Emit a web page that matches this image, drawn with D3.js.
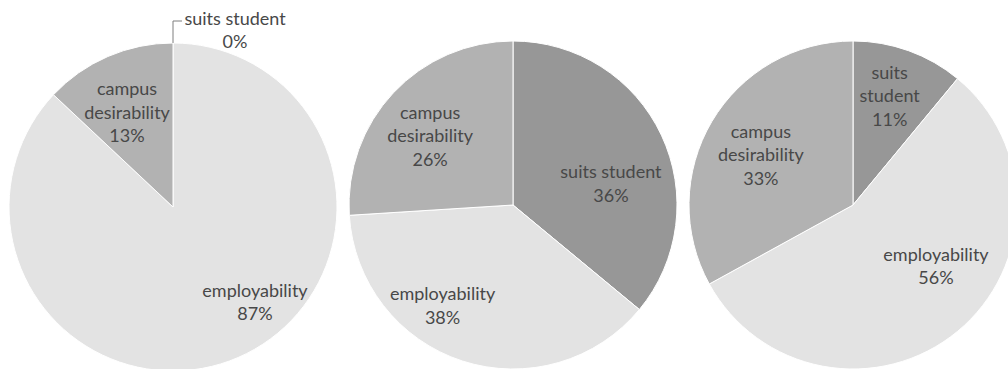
<!DOCTYPE html>
<html>
<head>
<meta charset="utf-8">
<script src="https://cdn.jsdelivr.net/npm/d3@7"></script>
<style>
  html, body { margin: 0; padding: 0; background: #fff; }
  svg { display: block; }
  text { font-family: Lato, "Open Sans", sans-serif; font-size: 18px; fill: #484848; }
</style>
</head>
<body>
<div id="chart"></div>
<script>
// categories, in drawing order (clockwise from 12 o'clock)
const categories = ['suits student', 'employability', 'campus desirability'];

// percent share per pie
const pie1Values = [0, 87, 13];
const pie2Values = [36, 38, 26];
const pie3Values = [11, 56, 33];

// how each category name is wrapped inside each pie
const pie1Names = [['suits student'], ['employability'], ['campus', 'desirability']];
const pie2Names = [['suits student'], ['employability'], ['campus', 'desirability']];
const pie3Names = [['suits', 'student'], ['employability'], ['campus', 'desirability']];

const width = 1008, height = 369;
const radius = 164;
const cy = [207, 205, 205];
const lineHeight = 23.5;

// best-fit label shifts (px) from the slice centroid, per pie
const labelShift = [
  [[0, 0], [39, -4], [-3, 5]],
  [[0, 25], [-37, -2], [-4, 5]],
  [[0, -7], [14, -22], [1, 5]]
];

const color = d3.scaleOrdinal()
  .domain(categories)
  .range(['#979797', '#e3e3e3', '#b2b2b2']);

const xPie = d3.scaleBand()
  .domain([0, 1, 2])
  .range([3, 1023]);

const pies = [
  { values: pie1Values, names: pie1Names },
  { values: pie2Values, names: pie2Names },
  { values: pie3Values, names: pie3Names }
];

const svg = d3.select('#chart')
  .append('svg')
  .attr('width', width)
  .attr('height', height);

const pieGen = d3.pie().sort(null).value(d => d.value);
const arc = d3.arc().innerRadius(0).outerRadius(radius);
const labelArc = d3.arc().innerRadius(radius * 0.66).outerRadius(radius * 0.66);

pies.forEach((p, pi) => {
  const data = categories.map((c, i) => ({ category: c, value: p.values[i], lines: p.names[i] }));
  const g = svg.append('g')
    .attr('transform', `translate(${xPie(pi) + xPie.bandwidth() / 2},${cy[pi]})`);

  const arcs = pieGen(data);

  g.selectAll('path')
    .data(arcs.filter(d => d.data.value > 0))
    .enter()
    .append('path')
    .attr('d', arc)
    .attr('fill', d => color(d.data.category))
    .attr('stroke', '#fff')
    .attr('stroke-width', 1);

  arcs.forEach((d, i) => {
    const lines = d.data.lines.concat([d.data.value + '%']);
    let x, y;
    if (d.data.value === 0) {
      // zero slice: label sits outside with a callout line
      const edgeY = -radius;
      const elbowY = edgeY - 22;
      g.append('path')
        .attr('d', `M0,${edgeY} V${elbowY} H9`)
        .attr('fill', 'none')
        .attr('stroke', '#7f7f7f')
        .attr('stroke-width', 1);
      x = 62;
      y = edgeY - 13;
    } else {
      const c = labelArc.centroid(d);
      x = c[0] + labelShift[pi][i][0];
      y = c[1] + labelShift[pi][i][1];
    }
    const t = g.append('text')
      .attr('text-anchor', 'middle')
      .attr('x', x)
      .attr('y', y - (lines.length - 1) * lineHeight / 2);
    t.selectAll('tspan')
      .data(lines)
      .enter()
      .append('tspan')
      .attr('x', x)
      .attr('dy', (l, j) => j === 0 ? '0.35em' : lineHeight)
      .text(l => l);
  });
});
</script>
</body>
</html>
